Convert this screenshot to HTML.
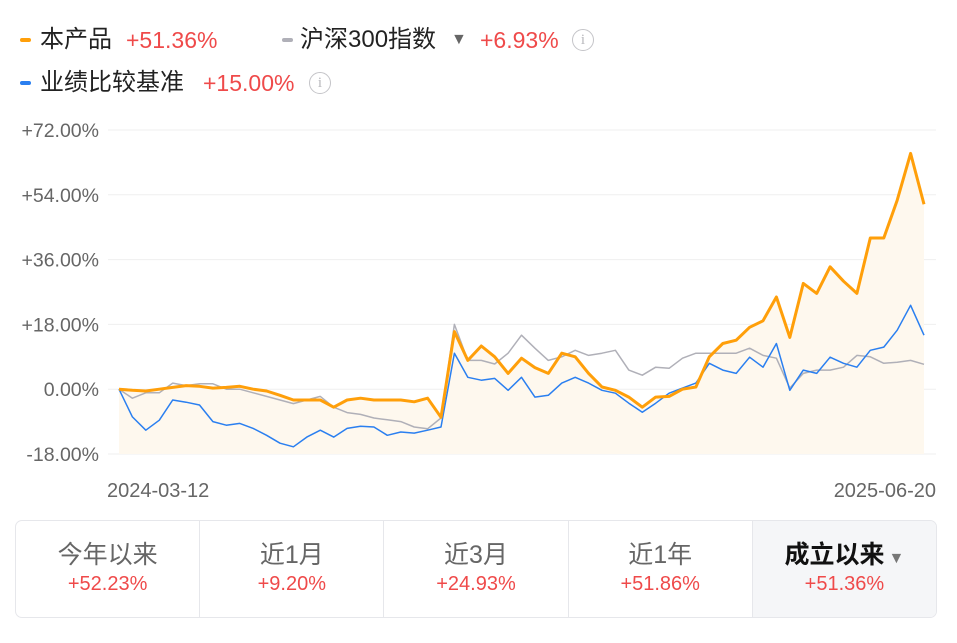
<!DOCTYPE html>
<html><head><meta charset="utf-8"><style>
body{margin:0;width:957px;height:643px;background:#fff;font-family:"Liberation Sans","Noto Sans CJK SC",sans-serif;position:relative;overflow:hidden}
.abs{position:absolute;white-space:nowrap}
.leg{font-size:24px;color:#222;line-height:30px}
.red{color:#ef4a4a;font-size:23px;line-height:30px}
.dash{position:absolute;width:11px;height:4px;border-radius:2px}
.info{position:absolute;width:20px;height:20px;border:1.5px solid #c4c4c8;border-radius:50%;color:#b8b8bc;font-size:15px;text-align:center;line-height:20px;font-family:"Liberation Serif",serif}
.tabs{position:absolute;left:15px;top:520px;width:920px;height:96px;border:1px solid #e6e7eb;border-radius:7px;display:flex;overflow:hidden}
.tab{flex:1;border-right:1px solid #e6e7eb;text-align:center}
.tab:last-child{border-right:none;background:#f5f6f8}
.tt{font-size:25px;color:#666;margin-top:18px;height:32px;line-height:32px}
.tv{font-size:20px;color:#ef4a4a;margin-top:2px}
</style></head><body>
<div class="dash" style="left:20px;top:38px;background:#ff9f0a"></div>
<div class="abs leg" style="left:40px;top:25px">本产品</div>
<div class="abs red" style="left:126px;top:25px">+51.36%</div>
<div class="dash" style="left:282px;top:38px;background:#b0b0b8"></div>
<div class="abs leg" style="left:300px;top:25px">沪深300指数</div>
<div class="abs" style="left:451px;top:31px;color:#666;font-size:16px">▼</div>
<div class="abs red" style="left:480px;top:25px">+6.93%</div>
<div class="info" style="left:572px;top:29px">i</div>
<div class="dash" style="left:20px;top:81px;background:#2a7ff0"></div>
<div class="abs leg" style="left:40px;top:68px">业绩比较基准</div>
<div class="abs red" style="left:203px;top:68px">+15.00%</div>
<div class="info" style="left:309px;top:72px">i</div>

<svg id="chart" class="abs" style="left:0;top:0" width="957" height="510"></svg>

<div class="tabs">
<div class="tab"><div class="tt">今年以来</div><div class="tv">+52.23%</div></div>
<div class="tab"><div class="tt">近1月</div><div class="tv">+9.20%</div></div>
<div class="tab"><div class="tt">近3月</div><div class="tv">+24.93%</div></div>
<div class="tab"><div class="tt">近1年</div><div class="tv">+51.86%</div></div>
<div class="tab"><div class="tt" style="color:#111;font-weight:bold">成立以来<span style="font-size:16px;color:#777;font-weight:normal;margin-left:4px">▼</span></div><div class="tv">+51.36%</div></div>
</div>
<script>
const yTicks=[72,54,36,18,0,-18];
const tickLabels=["+72.00%","+54.00%","+36.00%","+18.00%","0.00%","-18.00%"];
const dateLabels=["2024-03-12","2025-06-20"];
const product=[0,-0.3,-0.5,0,0.5,1,0.8,0.3,0.5,0.8,0,-0.5,-1.7,-3,-3,-3,-5,-3,-2.5,-3,-3,-3,-3.5,-2.5,-7.8,16,8,12,9,4.4,8.6,6,4.4,10,9,4.4,0.6,-0.3,-2.2,-5,-2.2,-2,0,0.6,9,12.7,13.6,17.2,19,25.6,14.4,29.4,26.6,34,30,26.6,42,42,52.5,65.5,51.36];
const benchmark=[0,-7.7,-11.4,-8.6,-3,-3.6,-4.4,-9,-10,-9.5,-10.9,-12.8,-15,-16,-13.3,-11.4,-13.3,-10.9,-10.3,-10.5,-12.8,-11.9,-12.2,-11.4,-10.5,10,3.3,2.5,3,-0.3,3.3,-2.2,-1.7,1.7,3.3,1.7,-0.3,-1.1,-3.9,-6.4,-3.9,-1.1,0.3,1.7,7.2,5.3,4.4,8.9,6.1,12.7,-0.3,5.3,4.4,8.9,7.2,6.1,10.8,11.7,16.4,23.3,15];
const indexSeries=[0,-2.5,-1,-1,1.7,1,1.5,1.5,0,0,-1,-2,-3,-4,-3,-2,-5,-6.5,-7,-8,-8.5,-9,-10.5,-11,-8,18,8,8,7,10,15,11.4,8,9,10.8,9.4,10,10.8,5.3,3.9,6.1,5.8,8.6,10,10,10,10,11.4,9.4,8.6,0.3,4.4,5.3,5.3,6.1,9.4,9,7.2,7.5,8,6.93];
const NS="http://www.w3.org/2000/svg";
const svg=document.getElementById('chart');
const x0=119,x1=924,yTop=130,yBot=454,vMax=72,vMin=-18;
const xs=i=>x0+(x1-x0)*i/(product.length-1);
const ys=v=>yTop+(vMax-v)/(vMax-vMin)*(yBot-yTop);
function mk(t,a){const e=document.createElementNS(NS,t);for(const k in a)e.setAttribute(k,a[k]);svg.appendChild(e);return e;}
yTicks.forEach((t,i)=>{
 const g=mk('line',{x1:108,x2:936,y1:ys(t),y2:ys(t),stroke:'#efefef','stroke-width':1});
 
 
 const l=mk('text',{x:99,y:ys(t)+7,'text-anchor':'end','font-size':19.5,fill:'#666','font-family':'Liberation Sans, sans-serif'});
 l.textContent=tickLabels[i];
 
 
});
dateLabels.forEach((d,i)=>{
 const t=mk('text',{x:i?936:107,y:497,'text-anchor':i?'end':'start','font-size':20,fill:'#666','font-family':'Liberation Sans, sans-serif'});
 t.textContent=d;
 
 
});
const pts=a=>a.map((v,i)=>xs(i).toFixed(1)+','+ys(v).toFixed(1)).join(' ');
const area=mk('polygon',{points:xs(0)+','+yBot+' '+pts(product)+' '+xs(product.length-1)+','+yBot,fill:'#fef8ee'});


[[indexSeries,'#b0b0b8',1.5,'index-line'],[benchmark,'#2a7ff0',1.5,'benchmark-line'],[product,'#ff9f0a',3,'product-line']].forEach(s=>{
 const p=mk('polyline',{points:pts(s[0]),fill:'none',stroke:s[1],'stroke-width':s[2],'stroke-linejoin':'round'});
 
 
});
</script>
</body></html>
